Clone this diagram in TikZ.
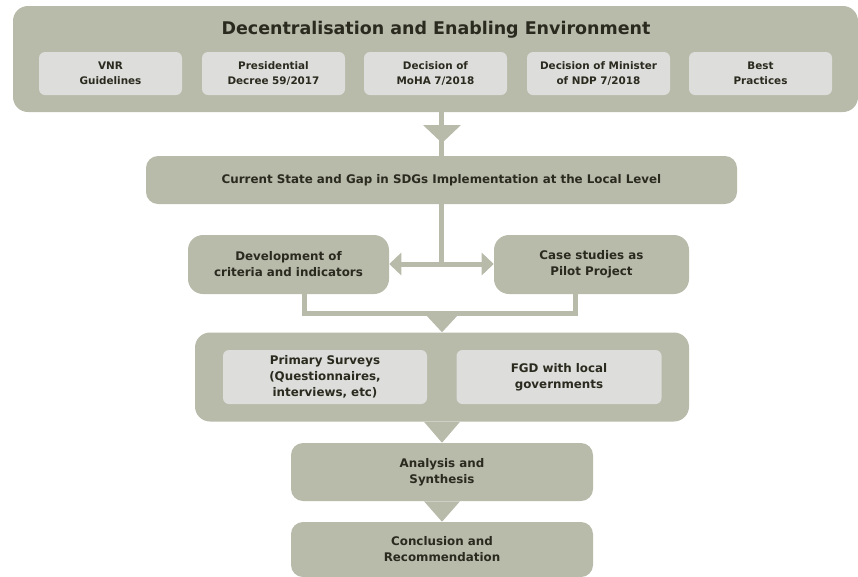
\documentclass[tikz,border=0pt]{standalone}
\usepackage{fontspec}
\setmainfont{DejaVu Sans}
\usetikzlibrary{arrows.meta}
\definecolor{olive}{HTML}{B8BAAA}
\definecolor{paleg}{HTML}{DDDDDB}
\definecolor{ink}{HTML}{2A2A1F}
\tikzset{
  bigbox/.style={fill=olive, rounded corners=11.25pt, inner sep=0pt, align=center, text=ink, font=\fontsize{8.9}{12}\selectfont\bfseries},
  midbox/.style={bigbox, rounded corners=9pt},
  subbox/.style={fill=paleg, rounded corners=4.5pt, inner sep=0pt, align=center, text=ink, font=\fontsize{7.8}{11}\selectfont\bfseries},
  survbox/.style={subbox, font=\fontsize{8.9}{12}\selectfont\bfseries},
  conn/.style={draw=olive, line width=3.75pt},
  tri/.style={fill=olive},
}
\begin{document}
\begin{tikzpicture}[x=0.75pt, y=-0.75pt]
\useasboundingbox (0,0) rectangle (858,576);
% top box
\node[bigbox, minimum width=845*0.75pt, minimum height=106*0.75pt] (top) at (435.5,59) {};
\node[text=ink, font=\fontsize{13.1}{16}\selectfont\bfseries] (title) at (436,30) {Decentralisation and Enabling Environment};
\node[subbox, minimum width=143*0.75pt, minimum height=43*0.75pt] (s1) at (110.5,73.5) {VNR\\Guidelines};
\node[subbox, minimum width=143*0.75pt, minimum height=43*0.75pt] (s2) at (273.5,73.5) {Presidential\\Decree 59/2017};
\node[subbox, minimum width=143*0.75pt, minimum height=43*0.75pt] (s3) at (435.5,73.5) {Decision of\\MoHA 7/2018};
\node[subbox, minimum width=143*0.75pt, minimum height=43*0.75pt] (s4) at (598.5,73.5) {Decision of Minister\\of NDP 7/2018};
\node[subbox, minimum width=143*0.75pt, minimum height=43*0.75pt] (s5) at (760.5,73.5) {Best\\Practices};
% current state
\node[midbox, minimum width=591*0.75pt, minimum height=48*0.75pt] (cur) at (441.5,180) {Current State and Gap in SDGs Implementation at the Local Level};
% dev & case
\node[bigbox, minimum width=201*0.75pt, minimum height=59*0.75pt] (dev) at (288.5,264.5) {Development of\\criteria and indicators};
\node[bigbox, minimum width=195*0.75pt, minimum height=59*0.75pt] (case) at (591.5,264.5) {Case studies as\\Pilot Project};
% surveys
\node[bigbox, minimum width=494*0.75pt, minimum height=89*0.75pt] (surv) at (442,377) {};
\node[survbox, minimum width=204*0.75pt, minimum height=54*0.75pt] (prim) at (325,377) {Primary Surveys\\(Questionnaires,\\interviews, etc)};
\node[survbox, minimum width=205*0.75pt, minimum height=54*0.75pt] (fgd) at (559,377) {FGD with local\\governments};
% analysis & conclusion
\node[midbox, minimum width=302*0.75pt, minimum height=58*0.75pt] (ana) at (442,472) {Analysis and\\Synthesis};
\node[midbox, minimum width=302*0.75pt, minimum height=55*0.75pt] (conc) at (442,549.5) {Conclusion and\\Recommendation};
% connectors
\coordinate (tx) at (441.5,0);
\draw[conn] (top.south -| tx) -- (cur.north -| tx);
\fill[tri] (423,125) -- (461,125) -- (442,143) -- cycle;
\coordinate (hj) at (441.5,264);
\draw[conn] (cur.south -| hj) -- (hj);
\draw[conn, {Triangle[length=9pt,width=16.5pt]}-{Triangle[length=9pt,width=16.5pt]}] (dev.east |- hj) -- (case.west |- hj);
\coordinate (bl) at (304,313);
\coordinate (br) at (575.5,313);
\draw[conn, line join=miter] (dev.south -| bl) -- (bl) -- (br) -- (case.south -| br);
\fill[tri] (426,315) -- (458,315) -- (surv.north) -- cycle;
\fill[tri] ([xshift=-13.5pt]surv.south) -- ([xshift=13.5pt]surv.south) -- (ana.north) -- cycle;
\fill[tri] ([xshift=-13.5pt]ana.south) -- ([xshift=13.5pt]ana.south) -- (conc.north) -- cycle;
\end{tikzpicture}
\end{document}
